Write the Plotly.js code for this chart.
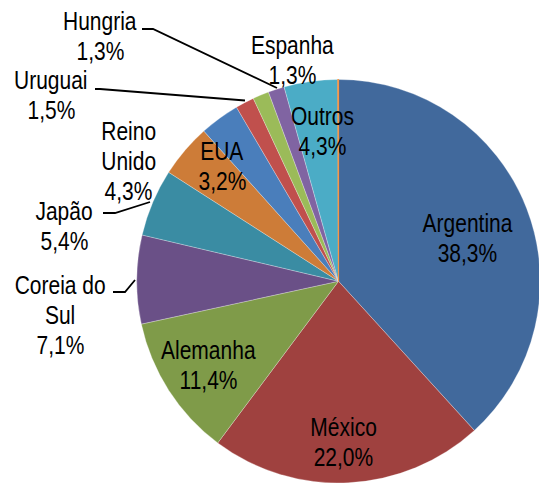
<!DOCTYPE html>
<html>
<head>
<meta charset="utf-8">
<script src="https://cdn.plot.ly/plotly-3.0.1.min.js"></script>
<style>
html, body { margin: 0; padding: 0; overflow: hidden; background: #fff; width: 539px; height: 483px; }
#chart { width: 541px; height: 483px; }
/* emulate a narrow (Arial Narrow-like) face with Liberation Sans */
#chart .annotation-text {
  transform-box: fill-box;
  transform-origin: center;
  transform: scaleX(0.84);
}
</style>
</head>
<body>
<div id="chart"></div>
<script>
// ---- data ----
const categories = ["Argentina", "México", "Alemanha", "Coreia do Sul", "Japão", "Reino Unido", "EUA", "Uruguai", "Espanha", "Hungria", "Outros", ""];
const shares = [38.3, 22.0, 11.4, 7.1, 5.4, 4.3, 3.2, 1.5, 1.3, 1.3, 4.3, 0.05];
const labelLines = [["Argentina"], ["México"], ["Alemanha"], ["Coreia do", "Sul"], ["Japão"], ["Reino", "Unido"], ["EUA"], ["Uruguai"], ["Espanha"], ["Hungria"], ["Outros"], []];

// ---- style ----
const colors = ["#41699C", "#9F413F", "#7F9B49", "#6A5087", "#3A8CA3", "#CD7C38", "#4A7EBB", "#C0504D", "#9BBB59", "#8064A2", "#4BACC6", "#F79646"];
const W = 541, H = 483;
const FONT = "'Liberation Sans', Arial, sans-serif";

// label anchor (pixel centre of first line) and line spacing
const labelPos = [
  [467, 223], [343, 427], [208, 350], [60, 285], [64, 211], [128, 131],
  [222, 151], [51, 80], [292, 45.5], [100, 21], [322, 116], null
];
const lineStep = 30;

// leader lines (pixel coords)
const leaders = [
  [[142, 29], [153, 29], [277, 88]],
  [[95, 89], [100, 89], [245, 100.5]],
  [[103, 213], [115, 213], [150, 202]],
  [[113, 292], [125, 292], [135, 280]]
];

const px = x => x / W;
const py = y => 1 - y / H;
const fmt = v => v.toFixed(1).replace('.', ',') + '%';

const annotations = [];
categories.forEach((c, i) => {
  if (!labelPos[i]) return;
  const lines = labelLines[i].concat([fmt(shares[i])]);
  lines.forEach((t, k) => {
    annotations.push({
      xref: 'paper', yref: 'paper',
      x: px(labelPos[i][0]), y: py(labelPos[i][1] + k * lineStep),
      xanchor: 'center', yanchor: 'middle',
      text: t, showarrow: false,
      font: { family: FONT, size: 25, color: '#000' }
    });
  });
});

const shapes = leaders.map(pts => ({
  type: 'path', xref: 'paper', yref: 'paper',
  path: 'M ' + pts.map(p => px(p[0]) + ',' + py(p[1])).join(' L '),
  line: { color: '#000', width: 1.8 }
}));

// pie geometry: centre (338.5, 281.5), radius ~202
const cx = 338.5, cy = 281.5, r = 202;
const trace = {
  type: 'pie',
  values: shares,
  labels: categories.map((c, i) => c || ('_' + i)),
  sort: false,
  direction: 'clockwise',
  rotation: 0,
  textinfo: 'none',
  hoverinfo: 'skip',
  showlegend: false,
  marker: {
    colors: colors,
    line: {
      color: colors.map((c, i) => i === colors.length - 1 ? '#F79646' : 'rgba(255,255,255,0.45)'),
      width: colors.map((c, i) => i === colors.length - 1 ? 1.2 : 0.6)
    }
  },
  domain: {
    x: [(cx - r) / W, (cx + r) / W],
    y: [(H - cy - r) / H, (H - cy + r) / H]
  }
};

const layout = {
  width: W, height: H,
  margin: { l: 0, r: 0, t: 0, b: 0, pad: 0 },
  paper_bgcolor: '#fff',
  showlegend: false,
  annotations: annotations,
  shapes: shapes
};

Plotly.newPlot('chart', [trace], layout, { displayModeBar: false, staticPlot: true });
</script>
</body>
</html>
